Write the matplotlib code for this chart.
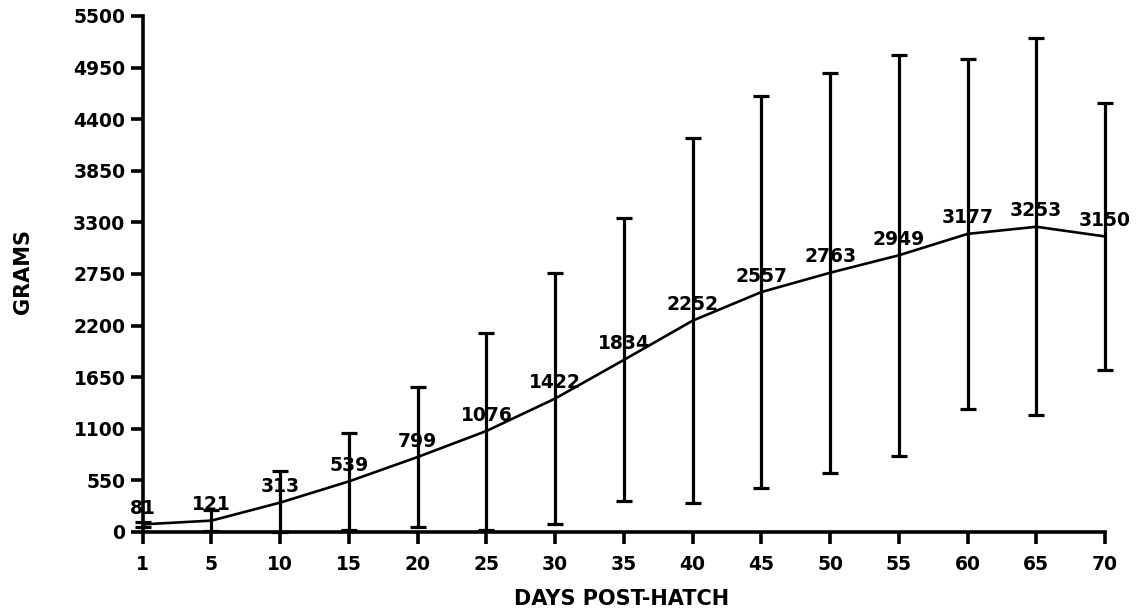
import numpy as np
import matplotlib.pyplot as plt

# mean body mass (grams) by day post-hatch, with standard deviation
days = [1, 5, 10, 15, 20, 25, 30, 35, 40, 45, 50, 55, 60, 65, 70]
mean_grams = [81, 121, 313, 539, 799, 1076, 1422, 1834, 2252, 2557, 2763, 2949, 3177, 3253, 3150]
sd_grams = [30, 110, 337, 515, 750, 1050, 1333, 1508, 1944, 2088, 2132, 2138, 1864, 2008, 1422]
y_ticks = [0, 550, 1100, 1650, 2200, 2750, 3300, 3850, 4400, 4950, 5500]

plt.rcParams['font.family'] = ['DejaVu Sans']
plt.rcParams['font.weight'] = 'bold'

fig = plt.figure(figsize=(11.37, 6.14), dpi=100)
ax = fig.add_axes([0.1255, 0.1336, 0.9719 - 0.1255, 0.974 - 0.1336])

x = np.arange(len(days))

# the mean curve
ax.plot(x, mean_grams, color='black', linewidth=1.9, zorder=2, clip_on=False)

# error bars drawn over the labels, like the original
# lower ends are cut at zero, as in the original
lower = [min(s, m) for m, s in zip(mean_grams, sd_grams)]
eb = ax.errorbar(x, mean_grams, yerr=[lower, sd_grams], fmt='none',
                 ecolor='black', elinewidth=2.3, capsize=6, capthick=2.3,
                 zorder=3)
for cap in eb[1]:
    cap.set_clip_on(False)
for col in eb[2]:
    col.set_clip_on(False)

# value labels above each point
for xi, v in zip(x, mean_grams):
    ax.annotate(str(v), (xi, v), xytext=(0, 16), textcoords='offset pixels',
                ha='center', va='center', fontsize=13.5, fontweight='bold',
                zorder=1)

ax.set_xlim(0, len(days) - 1)
ax.set_ylim(0, 5500)
ax.set_xticks(x)
ax.set_xticklabels([str(d) for d in days])
ax.set_yticks(y_ticks)
ax.set_yticklabels([str(t) for t in y_ticks])

for side in ['top', 'right']:
    ax.spines[side].set_visible(False)
for side in ['left', 'bottom']:
    ax.spines[side].set_linewidth(2.6)

ax.tick_params(axis='both', direction='out', length=8.5, width=2.6,
               labelsize=13.5)
ax.tick_params(axis='x', pad=8)
ax.tick_params(axis='y', pad=4)

fig.text(0.5468, 0.0244, 'DAYS POST-HATCH', ha='center', va='center',
         fontsize=15, fontweight='bold')
fig.text(0.0202, 0.5578, 'GRAMS', ha='center', va='center', rotation=90,
         fontsize=15, fontweight='bold')

fig.savefig('out.png', dpi=100)
